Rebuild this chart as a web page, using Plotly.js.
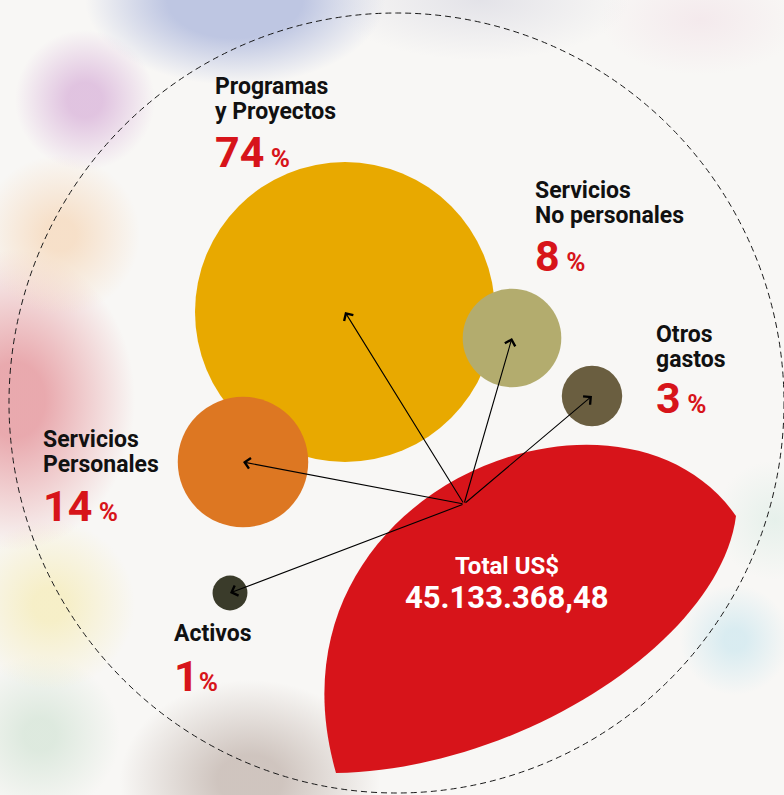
<!DOCTYPE html>
<html>
<head>
<meta charset="utf-8">
<script src="https://cdn.plot.ly/plotly-3.0.1.min.js"></script>
<style>
html, body { margin:0; padding:0; width:784px; height:795px; overflow:hidden; }
body {
  background-color:#f8f7f5;
  background-image:
    radial-gradient(ellipse 150px 85px at 235px 0px, rgba(190,198,226,1) 45%, rgba(190,198,226,0) 100%),
    radial-gradient(ellipse 150px 60px at 480px 0px, rgba(210,210,222,0.55), rgba(210,210,222,0) 100%),
    radial-gradient(ellipse 100px 55px at 700px 20px, rgba(240,220,228,0.5), rgba(240,220,228,0) 100%),
    radial-gradient(circle 70px at 85px 100px, rgba(222,190,222,0.9) 25%, rgba(222,190,222,0) 100%),
    radial-gradient(circle 80px at 60px 235px, rgba(246,218,190,0.8) 20%, rgba(246,218,190,0) 100%),
    radial-gradient(ellipse 120px 150px at 15px 400px, rgba(232,165,170,0.95) 25%, rgba(232,165,170,0) 100%),
    radial-gradient(circle 85px at 50px 605px, rgba(246,238,195,0.9) 20%, rgba(246,238,195,0) 100%),
    radial-gradient(circle 80px at 40px 735px, rgba(215,230,217,0.8) 20%, rgba(215,230,217,0) 100%),
    radial-gradient(ellipse 130px 100px at 250px 780px, rgba(205,194,188,0.95) 25%, rgba(205,194,188,0) 100%),
    radial-gradient(circle 55px at 735px 640px, rgba(212,234,240,0.85) 20%, rgba(212,234,240,0) 100%),
    radial-gradient(circle 60px at 775px 520px, rgba(218,236,228,0.6), rgba(218,236,228,0) 100%);
}
#chart { width:784px; height:795px; }
</style>
</head>
<body>
<div id="chart"></div>
<script>
// ---- data ----
var categoryLines = [
  ["Programas", "y Proyectos"],
  ["Servicios", "No personales"],
  ["Otros", "gastos"],
  ["Servicios", "Personales"],
  ["Activos"]
];
var values = [74, 8, 3, 14, 1];           // percent of total
var totalLabel = "Total US$";
var totalValue = "45.133.368,48";

// ---- layout (positions / styles) ----
var bubbleX = [345, 512, 592, 243, 230];
var bubbleY = [312, 338, 396, 462, 593];
var colors = ["#E8A900", "#B3AC6E", "#6A5E40", "#DD7722", "#3A3B2A"];
var labelX = [213, 533, 654, 41, 172];
var labelY = [86, 190.5, 334.5, 439.5, 633];
var lineGap = 25;
var pctY = [151.5, 255.5, 398, 506, 676];
var hub = [464, 504];
var maxDiameter = 300;

var RED = "#D7141A";
var FONT = "Roboto, 'Liberation Sans Narrow', Arial, sans-serif";

var maxVal = Math.max.apply(null, values);
var trace = {
  type: "scatter",
  mode: "markers",
  x: bubbleX,
  y: bubbleY,
  hoverinfo: "skip",
  marker: {
    size: values,
    sizemode: "area",
    sizeref: 2 * maxVal / (maxDiameter * maxDiameter),
    color: colors,
    line: { width: 0 },
    opacity: 1
  },
  showlegend: false
};

var annotations = [];
for (var i = 0; i < values.length; i++) {
  categoryLines[i].forEach(function (ln, k) {
    annotations.push({
      x: labelX[i], y: labelY[i] + k * lineGap, xref: "x", yref: "y",
      xanchor: "left", yanchor: "middle", showarrow: false,
      text: "<b>" + ln + "</b>",
      font: { family: FONT, size: 23, color: "#111" }
    });
  });
  annotations.push({
    x: labelX[i], y: pctY[i], xref: "x", yref: "y",
    xanchor: "left", yanchor: "middle", showarrow: false,
    text: "<b>" + values[i] + "<span style='font-size:26px'>" + (i !== 4 ? " " : "") + "%</span></b>",
    font: { family: FONT, size: 43, color: RED }
  });
  annotations.push({
    x: bubbleX[i], y: bubbleY[i], xref: "x", yref: "y",
    ax: hub[0], ay: hub[1], axref: "x", ayref: "y",
    text: "", showarrow: true, arrowhead: 4, arrowsize: 1.9,
    arrowwidth: 1.1, arrowcolor: "#000", standoff: 0
  });
}
annotations.push({
  x: 507, y: 566, xref: "x", yref: "y", showarrow: false,
  text: "<b>" + totalLabel + "</b>",
  font: { family: FONT, size: 24, color: "#fff" }
});
annotations.push({
  x: 506, y: 597, xref: "x", yref: "y", showarrow: false,
  text: "<b>" + totalValue + "</b>",
  font: { family: FONT, size: 31, color: "#fff" }
});

var layout = {
  width: 784, height: 795,
  margin: { l: 0, r: 0, t: 0, b: 0 },
  paper_bgcolor: "rgba(0,0,0,0)",
  plot_bgcolor: "rgba(0,0,0,0)",
  xaxis: { range: [0, 784], visible: false, fixedrange: true },
  yaxis: { range: [795, 0], visible: false, fixedrange: true },
  showlegend: false,
  hovermode: false,
  shapes: [
    {
      type: "circle", xref: "x", yref: "y", layer: "below",
      x0: 9, x1: 784, y0: 13, y1: 793,
      line: { color: "#1a1a1a", width: 1, dash: "6px,4px" }
    },
    {
      type: "path", xref: "x", yref: "y", layer: "below",
      path: "M336,773 C255,490 620,350 736,516 C720,640 520,770 336,773 Z",
      fillcolor: RED, line: { width: 0 }
    }
  ],
  annotations: annotations
};

Plotly.newPlot("chart", [trace], layout, { displayModeBar: false, staticPlot: true });
</script>
</body>
</html>
